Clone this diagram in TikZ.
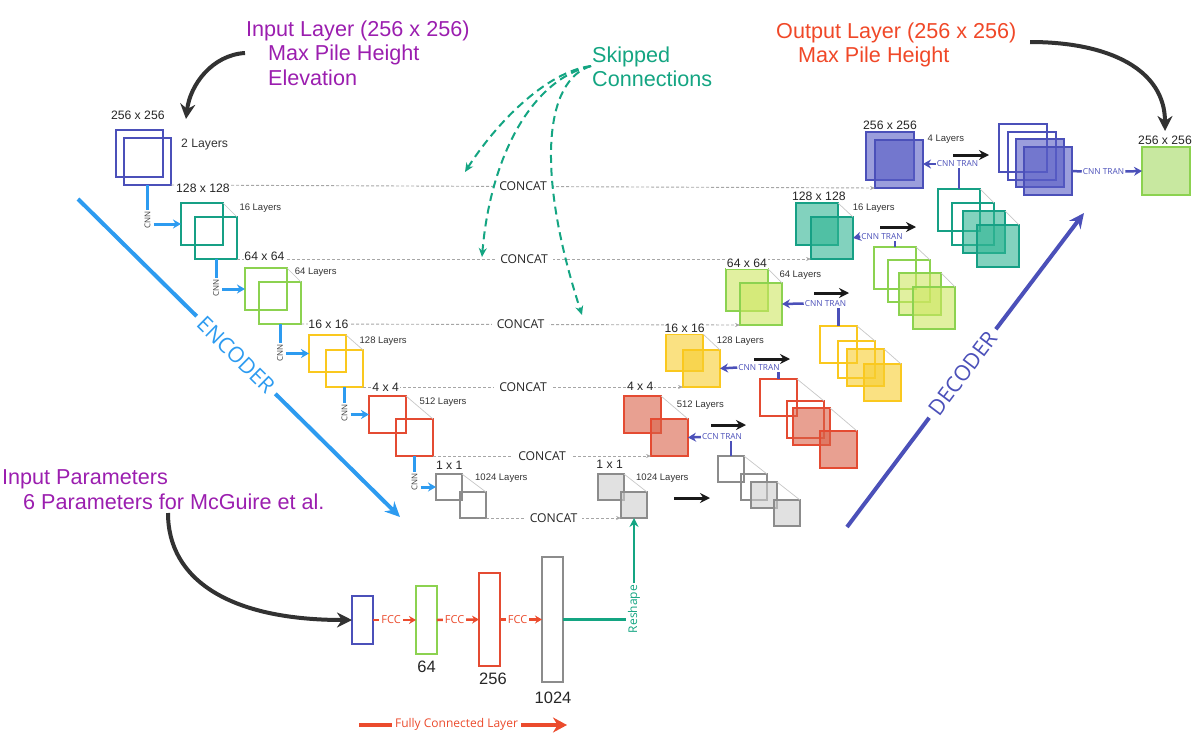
\documentclass[tikz,border=0pt]{standalone}
\usepackage{fontspec}
\setmainfont{Liberation Sans}
\newfontfamily\osans{Open Sans}
\usetikzlibrary{arrows.meta}
\newcommand{\fsz}[1]{\fontsize{#1}{#1}\selectfont}
\newcommand{\blk}[5]{\node[#5, minimum size=#4pt] (#1) at (#2,#3) {};}
\definecolor{cInd}{RGB}{75,80,185}
\definecolor{cIndF}{RGB}{88,93,197}
\definecolor{cTeal}{RGB}{22,160,133}
\definecolor{cTealF}{RGB}{47,180,147}
\definecolor{cLG}{RGB}{140,210,80}
\definecolor{cLGF}{RGB}{205,230,97}
\definecolor{cYel}{RGB}{250,200,30}
\definecolor{cYelF}{RGB}{247,205,47}
\definecolor{cRed}{RGB}{228,75,50}
\definecolor{cRedF}{RGB}{217,97,72}
\definecolor{cGry}{RGB}{140,140,140}
\definecolor{cGryF}{RGB}{205,205,205}
\definecolor{cOutF}{RGB}{200,232,160}
\definecolor{cBlue}{RGB}{45,155,240}
\definecolor{cPurp}{RGB}{155,30,175}
\definecolor{cSkip}{RGB}{20,165,130}
\definecolor{cOrg}{RGB}{240,72,40}
\definecolor{cFC}{RGB}{235,75,45}
\definecolor{cDark}{RGB}{50,50,50}
\tikzset{
  sq/.style={draw, line width=1.5pt, inner sep=0pt, outer sep=0pt, anchor=north west},
  fsq/.style={sq, fill opacity=0.6},
  persp/.style={draw=black!22, line width=0.7pt},
  dimlbl/.style={font=\fsz{12.2}, fill=white, inner sep=0.8pt, text=black!85},
  laylbl/.style={font=\fsz{9.5}, inner sep=0pt, anchor=west, text=black!80},
  concat/.style={draw=black!35, line width=0.9pt, dash pattern=on 3pt off 2pt, -{Stealth[length=5pt,width=4pt]}},
  concatlbl/.style={font=\osans\fsz{12.2}, fill=white, inner xsep=5pt, inner ysep=1pt, text=black!85},
  cnnline/.style={draw=cBlue, line width=3pt},
  cnnarr/.style={draw=cBlue, line width=3pt, -{Stealth[length=8pt,width=9pt]}},
  cnnlbl/.style={font=\osans\fsz{8}, rotate=90, text=black!75, inner sep=1pt},
  tranlbl/.style={font=\osans\fsz{8.3}, text=cInd, inner sep=1pt},
  tranline/.style={draw=cInd, line width=2.5pt},
  tranarr/.style={draw=cInd, line width=2.5pt, -{Stealth[length=8pt,width=9pt]}},
  blkarr/.style={draw=black!90, line width=3pt, -{Stealth[length=10pt,width=10pt]}},
  bigarr/.style={draw=cDark, line width=4pt, -{Stealth[length=15pt,width=15pt]}},
  skiparr/.style={draw=cSkip, line width=2pt, dash pattern=on 8pt off 5pt, -{Stealth[length=9pt,width=8pt]}},
  ttl/.style={font=\fsz{21.6}, inner sep=0pt, anchor=base west},
  fbox/.style={draw, line width=1.3pt, inner sep=0pt, outer sep=0pt, anchor=north west, minimum width=21pt},
  fcc/.style={draw=cFC, line width=2.5pt, -{Stealth[length=7pt,width=8pt]}},
  fcclbl/.style={font=\osans\fsz{11}, text=cFC, fill=white, inner sep=2pt, pos=0.42},
  numlbl/.style={font=\fsz{16.5}, text=black!85},
}
\begin{document}
\begin{tikzpicture}[x=1pt,y=-1pt]
\useasboundingbox (0,0) rectangle (1200,736);

% ---------- titles ----------
\node[ttl, text=cPurp] (in1) at (246,36.7) {Input Layer (256 x 256)};
\node[ttl, text=cPurp] (in2) at (268,60.7) {Max Pile Height};
\node[ttl, text=cPurp] (in3) at (268,85) {Elevation};
\node[ttl, text=cSkip] (sk1) at (592,62) {Skipped};
\node[ttl, text=cSkip] (sk2) at (592,86) {Connections};
\node[ttl, text=cOrg] (ou1) at (776,38) {Output Layer (256 x 256)};
\node[ttl, text=cOrg] (ou2) at (798,62.5) {Max Pile Height};
\node[ttl, text=cPurp] (ip1) at (2,484) {Input Parameters};
\node[ttl, text=cPurp] (ip2) at (23,509) {6 Parameters for McGuire et al.};

% ---------- encoder blocks ----------
\blk{e1a}{116}{130}{47}{sq, draw=cInd}
\blk{e1b}{124}{138}{47}{sq, draw=cInd}
\blk{e2a}{181}{203}{42}{sq, draw=cTeal}
\blk{e2b}{195}{217}{42}{sq, draw=cTeal}
\blk{e3a}{245}{268}{42}{sq, draw=cLG}
\blk{e3b}{259}{282}{42}{sq, draw=cLG}
\blk{e4a}{309}{335}{37}{sq, draw=cYel}
\blk{e4b}{326}{350}{37}{sq, draw=cYel}
\blk{e5a}{369}{396}{37}{sq, draw=cRed}
\blk{e5b}{396}{419}{37}{sq, draw=cRed}
\blk{e6a}{436}{474}{26}{sq, draw=cGry}
\blk{e6b}{460}{492}{26}{sq, draw=cGry}

% ---------- decoder blocks ----------
\blk{d6a}{598}{474}{26}{fsq, draw=cGry, fill=cGryF}
\blk{d6b}{621}{492}{26}{fsq, draw=cGry, fill=cGryF}
\blk{d5a}{624}{396}{37}{fsq, draw=cRed, fill=cRedF}
\blk{d5b}{651}{419}{37}{fsq, draw=cRed, fill=cRedF}
\blk{d4a}{666}{334}{37}{fsq, draw=cYel, fill=cYelF}
\blk{d4b}{683}{350}{37}{fsq, draw=cYel, fill=cYelF}
\blk{d3a}{726}{269}{42}{fsq, draw=cLG, fill=cLGF}
\blk{d3b}{740}{283}{42}{fsq, draw=cLG, fill=cLGF}
\blk{d2a}{796}{203}{42}{fsq, draw=cTeal, fill=cTealF}
\blk{d2b}{811}{217}{42}{fsq, draw=cTeal, fill=cTealF}
\blk{d1a}{866}{132}{48}{fsq, draw=cInd, fill=cIndF}
\blk{d1b}{875}{140}{48}{fsq, draw=cInd, fill=cIndF}

% ---------- decoder stacks ----------
\blk{s5a}{718}{456}{26}{sq, draw=cGry}
\blk{s5b}{741}{474}{26}{sq, draw=cGry}
\blk{s5c}{751}{482}{26}{fsq, draw=cGry, fill=cGryF}
\blk{s5d}{774}{500}{26}{fsq, draw=cGry, fill=cGryF}
\blk{s4a}{760}{379}{37}{sq, draw=cRed}
\blk{s4b}{787}{401}{37}{sq, draw=cRed}
\blk{s4c}{793}{408}{37}{fsq, draw=cRed, fill=cRedF}
\blk{s4d}{820}{431}{37}{fsq, draw=cRed, fill=cRedF}
\blk{s3a}{820}{326}{37}{sq, draw=cYel}
\blk{s3b}{838}{341}{37}{sq, draw=cYel}
\blk{s3c}{847}{349}{37}{fsq, draw=cYel, fill=cYelF}
\blk{s3d}{864}{364}{37}{fsq, draw=cYel, fill=cYelF}
\blk{s2a}{874}{247}{42}{sq, draw=cLG}
\blk{s2b}{888}{260}{42}{sq, draw=cLG}
\blk{s2c}{899}{273}{42}{fsq, draw=cLG, fill=cLGF}
\blk{s2d}{913}{287}{42}{fsq, draw=cLG, fill=cLGF}
\blk{s1a}{938}{189}{42}{sq, draw=cTeal}
\blk{s1b}{952}{203}{42}{sq, draw=cTeal}
\blk{s1c}{963}{211}{42}{fsq, draw=cTeal, fill=cTealF}
\blk{s1d}{977}{225}{42}{fsq, draw=cTeal, fill=cTealF}
\blk{s0a}{999}{124}{48}{sq, draw=cInd}
\blk{s0b}{1008}{132}{48}{sq, draw=cInd}
\blk{s0c}{1016}{139}{48}{fsq, draw=cInd, fill=cIndF}
\blk{s0d}{1024}{147}{48}{fsq, draw=cInd, fill=cIndF}
\blk{out}{1142}{147}{48}{sq, draw=cLG, fill=cOutF}

% ---------- perspective lines ----------
\foreach \p in {e2,e3,e4,e5,e6,d2,d3,d4,d5,d6}{
  \draw[persp] (\p a.north east) -- (\p b.north east);}
\foreach \p in {s1,s2,s3,s4,s5}{
  \draw[persp] (\p a.north east) -- (\p b.north east);
  \draw[persp] (\p c.north east) -- (\p d.north east);}

% ---------- concat lines ----------
\draw[concat] (e1b.south east) -- node[concatlbl] (cc1) {CONCAT} (d1b.south west);
\draw[concat] (e2b.south east) -- node[concatlbl] (cc2) {CONCAT} (d2b.south west);
\draw[concat] (e3b.south east) -- node[concatlbl] (cc3) {CONCAT} (d3b.south west);
\draw[concat] (e4b.south east) -- node[concatlbl] (cc4) {CONCAT} (d4b.south west);
\draw[concat] (e5b.south east) -- node[concatlbl] (cc5) {CONCAT} (d5b.south west);
\draw[concat] (e6b.south east) -- node[concatlbl] (cc6) {CONCAT} (d6b.south west);

% ---------- dimension labels ----------
\node[dimlbl] (le1) at (137.8,115.7) {256 x 256};
\node[dimlbl] (le2) at (203,188.3) {128 x 128};
\node[dimlbl] (le3) at (264.5,256.7) {64 x 64};
\node[dimlbl] (le4) at (328.5,324.3) {16 x 16};
\node[dimlbl] (le5) at (385.7,387.3) {4 x 4};
\node[dimlbl] (le6) at (449.3,465.7) {1 x 1};
\node[dimlbl] (ld6) at (609.7,464.3) {1 x 1};
\node[dimlbl] (ld5) at (640.3,386.7) {4 x 4};
\node[dimlbl] (ld4) at (684.7,328.7) {16 x 16};
\node[dimlbl] (ld3) at (747,263.6) {64 x 64};
\node[dimlbl] (ld2) at (818.8,196) {128 x 128};
\node[dimlbl] (ld1) at (890,125) {256 x 256};
\node[dimlbl] (lout) at (1165,140) {256 x 256};

% ---------- layer labels ----------
\node[laylbl, font=\fsz{12.2}] (ye1) at (181,145) {2 Layers};
\node[laylbl] (ye2) at (239.3,208) {16 Layers};
\node[laylbl] (ye3) at (294.7,272) {64 Layers};
\node[laylbl] (ye4) at (359.5,341) {128 Layers};
\node[laylbl] (ye5) at (419.3,401.7) {512 Layers};
\node[laylbl] (ye6) at (475,478) {1024 Layers};
\node[laylbl] (yd6) at (636,478) {1024 Layers};
\node[laylbl] (yd5) at (676.7,405) {512 Layers};
\node[laylbl] (yd4) at (716.7,341) {128 Layers};
\node[laylbl] (yd3) at (779.3,274.7) {64 Layers};
\node[laylbl] (yd2) at (852.7,208) {16 Layers};
\node[laylbl] (yd1) at (927.5,139) {4 Layers};

% ---------- encoder CNN steps ----------
\draw[cnnline] (e1b.south) -- ++(0,25) coordinate (k1);
\node[cnnlbl, anchor=east] (cnn1) at (k1) {CNN};
\path (cnn1.center) ++(6,0) coordinate (j1);
\draw[cnnarr] (j1 |- e2a.west) -- (e2a.west);

\draw[cnnline] (e2b.south) -- ++(0,19) coordinate (k2);
\node[cnnlbl, anchor=east] (cnn2) at (k2) {CNN};
\path (cnn2.center) ++(6,0) coordinate (j2);
\draw[cnnarr] (j2 |- e3a.west) -- (e3a.west);

\draw[cnnline] (e3b.south) -- ++(0,19) coordinate (k3);
\node[cnnlbl, anchor=east] (cnn3) at (k3) {CNN};
\path (cnn3.center) ++(6,0) coordinate (j3);
\draw[cnnarr] (j3 |- e4a.west) -- (e4a.west);

\draw[cnnline] (e4b.south) -- ++(0,16) coordinate (k4);
\node[cnnlbl, anchor=east] (cnn4) at (k4) {CNN};
\path (cnn4.center) ++(6,0) coordinate (j4);
\draw[cnnarr] (j4 |- e5a.west) -- (e5a.west);

\draw[cnnline] (e5b.south) -- ++(0,16) coordinate (k5);
\node[cnnlbl, anchor=east] (cnn5) at (k5) {CNN};
\path (cnn5.center) ++(6,0) coordinate (j5);
\draw[cnnarr] (j5 |- e6a.west) -- (e6a.west);

% ---------- decoder CNN TRAN ----------
\node[tranlbl] (t5) at (722,437) {CCN TRAN};
\draw[tranline] (s5a.north) -- (s5a.north |- t5.south);
\draw[tranarr] (t5.west) -- (d5b.east);
\node[tranlbl] (t4) at (759,367.5) {CNN TRAN};
\draw[tranline] (s4a.north) -- (s4a.north |- t4.south);
\draw[tranarr] (t4.west) -- (d4b.east);
\node[tranlbl] (t3) at (825.5,303.5) {CNN TRAN};
\draw[tranline] (s3a.north) -- (s3a.north |- t3.south);
\draw[tranarr] (t3.west) -- (d3b.east);
\node[tranlbl] (t2) at (882,236.5) {CNN TRAN};
\draw[tranline] (s2a.north) -- (s2a.north |- t2.south);
\draw[tranarr] (t2.west) -- (d2b.east);
\node[tranlbl] (t1) at (957.5,164) {CNN TRAN};
\draw[tranline] (s1a.north) -- (s1a.north |- t1.south);
\draw[tranarr] (t1.west) -- (d1b.east);
\node[tranlbl] (t0) at (1103.5,171.5) {CNN TRAN};
\draw[tranline] (s0d.east) -- (t0.west);
\draw[tranarr] (t0.east) -- (out.west);

% ---------- black arrows block -> stack ----------
\foreach \xa/\xb/\yy in {674/710/498, 711/746/425, 754/790/359, 814/849/293, 880/916/227, 953/989/155}{
  \draw[blkarr] (\xa,\yy) -- (\xb,\yy);}

% ---------- encoder / decoder diagonals ----------
\coordinate (es) at (78,199);
\coordinate (ee) at (400,517);
\node[font=\osans\fsz{21.5}, text=cBlue, rotate=-44.6, inner xsep=5.5pt, inner ysep=0pt] (enc) at (236,355) {ENCODER};
\draw[draw=cBlue, line width=4pt] (es) -- (enc.west);
\draw[draw=cBlue, line width=4pt, -{Stealth[length=15pt,width=14pt]}] (enc.east) -- (ee);
\coordinate (ds) at (847,527);
\coordinate (de) at (1084,213);
\node[font=\osans\fsz{21.5}, text=cInd, rotate=53, inner xsep=6pt, inner ysep=0pt] (dec) at (962.5,373.5) {DECODER};
\draw[draw=cInd, line width=4pt] (ds) -- (dec.west);
\draw[draw=cInd, line width=4pt, -{Stealth[length=15pt,width=14pt]}] (dec.east) -- (de);

% ---------- skipped connections ----------
\coordinate (sks) at (591,66);
\coordinate (skt1) at (465,172);
\coordinate (skt2) at (482,257);
\coordinate (skt3) at (582,315);
\draw[skiparr] (sks) .. controls (545,72) and (495,125) .. (skt1);
\draw[skiparr] (sks) .. controls (530,80) and (490,160) .. (skt2);
\draw[skiparr] (sks) .. controls (545,80) and (535,170) .. (skt3);

% ---------- big curved arrows ----------
\coordinate (a1s) at (245,53);
\coordinate (a1e) at (186,119);
\draw[bigarr] (a1s) .. controls (212,55) and (190,85) .. (a1e);
\coordinate (a2s) at (1030,42);
\coordinate (a2e) at (1165,131);
\draw[bigarr] (a2s) .. controls (1110,42) and (1165,70) .. (a2e);

% ---------- fully connected part ----------
\node[fbox, draw=cInd, minimum height=48pt] (fin) at (352,596) {};
\node[fbox, draw=cLG, minimum height=68pt] (f64) at (416,586) {};
\node[fbox, draw=cRed, minimum height=93pt] (f256) at (479,573) {};
\node[fbox, draw=cGry, minimum height=125pt] (f1024) at (542,557) {};
\coordinate (a3s) at (168,513);
\draw[bigarr] (a3s) .. controls (168,580) and (230,620) .. (fin.west);
\draw[fcc] (fin.east) -- node[fcclbl] (fc1) {FCC} (f64.west);
\draw[fcc] (f64.east) -- node[fcclbl] (fc2) {FCC} (f256.west);
\draw[fcc] (f256.east) -- node[fcclbl] (fc3) {FCC} (f1024.west);
\node[numlbl] (n64) at (426.5,667) {64};
\node[numlbl] (n256) at (493,678.5) {256};
\node[numlbl] (n1024) at (553,697.5) {1024};

\node[font=\osans\fsz{12}, text=cSkip, rotate=90, inner sep=1.5pt] (rsh) at (634,609) {Reshape};
\draw[draw=cSkip, line width=2.5pt] (f1024.east) -- (rsh.north |- f1024.east);
\draw[draw=cSkip, line width=2.5pt, -{Stealth[length=9pt,width=9pt]}] (rsh.east) -- (d6b.south);

\node[font=\osans\fsz{12}, text=cFC, inner sep=3pt] (leg) at (456.5,724) {Fully Connected Layer};
\coordinate (lg0) at (359,725);
\coordinate (lg1) at (567,725);
\draw[draw=cFC, line width=4pt] (lg0) -- (leg.west |- lg0);
\draw[draw=cFC, line width=4pt, -{Stealth[length=14pt,width=15pt]}] (leg.east |- lg1) -- (lg1);
\end{tikzpicture}
\end{document}
